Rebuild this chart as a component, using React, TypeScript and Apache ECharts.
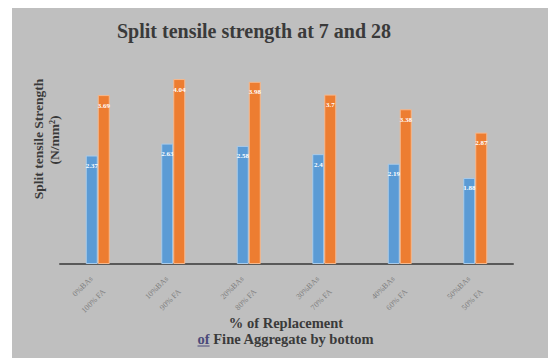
import React, { useEffect, useRef } from "react";
import * as echarts from "echarts";

const categories = [
  "0%BAs\n100% FA",
  "10%BAs\n90% FA",
  "20%BAs\n80% FA",
  "30%BAs\n70% FA",
  "40%BAs\n60% FA",
  "50%BAs\n50% FA",
];
const days7 = [2.37, 2.63, 2.58, 2.4, 2.19, 1.88];
const days28 = [3.69, 4.04, 3.98, 3.7, 3.38, 2.87];
const titleText = "Split tensile strength at 7 and 28";
const yNameLines = ["Split tensile Strength", "(N/mm\u00B2)"];
const xNameLine1 = "% of Replacement";
const xNameLine2a = "of";
const xNameLine2b = " Fine Aggregate by bottom";

export default function App() {
  const ref = useRef<HTMLDivElement>(null);
  useEffect(() => {
    if (!ref.current) return;
    const chart = echarts.init(ref.current, null, { renderer: "svg" });
    const serif = "Liberation Serif";
    const labelCfg = {
      show: true,
      position: "insideTop",
      distance: 7,
      color: "#ffffff",
      fontSize: 7,
      fontWeight: "bold",
      fontFamily: serif,
    };
    const xFont = `bold 14.5px ${serif}`;
    const fmt: any = echarts.format;
    const ofW = fmt.getTextRect ? fmt.getTextRect(xNameLine2a, xFont).width : 12;
    const fullW = fmt.getTextRect
      ? fmt.getTextRect(xNameLine2a + xNameLine2b, xFont).width
      : 174;
    const x2Start = 286 - fullW / 2;
    chart.setOption({
      animation: false,
      backgroundColor: "#ffffff",
      graphic: [
        {
          type: "rect",
          z: -10,
          shape: { x: 12, y: 8, width: 536, height: 350 },
          style: { fill: "#bfbfbf" },
        },
        {
          type: "text",
          x: 254,
          y: 31,
          style: {
            text: titleText,
            fill: "#3a3a3a",
            font: `bold 20px ${serif}`,
            textAlign: "center",
            textVerticalAlign: "middle",
          },
        },
        {
          type: "text",
          x: 38,
          y: 139,
          rotation: Math.PI / 2,
          style: {
            text: yNameLines[0],
            fill: "#3a3a3a",
            font: `bold 13.5px ${serif}`,
            textAlign: "center",
            textVerticalAlign: "middle",
          },
        },
        {
          type: "text",
          x: 54,
          y: 140,
          rotation: Math.PI / 2,
          style: {
            text: yNameLines[1],
            fill: "#3a3a3a",
            font: `bold 13.5px ${serif}`,
            textAlign: "center",
            textVerticalAlign: "middle",
          },
        },
        {
          type: "text",
          x: 286,
          y: 323,
          style: {
            text: xNameLine1,
            fill: "#3a3a3a",
            font: xFont,
            textAlign: "center",
            textVerticalAlign: "middle",
          },
        },
        {
          type: "text",
          x: x2Start,
          y: 339,
          style: {
            text: xNameLine2a,
            fill: "#4a4a7a",
            font: xFont,
            textAlign: "left",
            textVerticalAlign: "middle",
          },
        },
        {
          type: "text",
          x: x2Start + ofW,
          y: 339,
          style: {
            text: xNameLine2b,
            fill: "#3a3a3a",
            font: xFont,
            textAlign: "left",
            textVerticalAlign: "middle",
          },
        },
        {
          type: "line",
          shape: { x1: x2Start, y1: 346, x2: x2Start + ofW, y2: 346 },
          style: { stroke: "#4a4a7a", lineWidth: 1 },
        },
      ],
      grid: { left: 60, right: 35, top: 58, bottom: 94 },
      xAxis: {
        type: "category",
        data: categories,
        axisLine: { show: true, lineStyle: { color: "#595959", width: 2 } },
        axisTick: { show: false },
        axisLabel: {
          rotate: 45,
          fontSize: 8,
          color: "#808080",
          fontFamily: serif,
          lineHeight: 18,
          margin: 20,
          interval: 0,
        },
      },
      yAxis: {
        type: "value",
        min: 0,
        max: 4.5,
        axisLine: { show: false },
        axisTick: { show: false },
        axisLabel: { show: false },
        splitLine: { show: false },
      },
      series: [
        {
          name: "7 days",
          type: "bar",
          data: days7,
          barWidth: 12,
          barGap: "0%",
          itemStyle: { color: "#5b9bd5", borderColor: "#a9cbea", borderWidth: 1 },
          label: labelCfg,
        },
        {
          name: "28 days",
          type: "bar",
          data: days28,
          barWidth: 12,
          itemStyle: { color: "#ed7d31", borderColor: "#f6b98e", borderWidth: 1 },
          label: labelCfg,
        },
      ],
    });
    return () => chart.dispose();
  }, []);
  return (
    <div
      ref={ref}
      style={{ position: "absolute", left: 0, top: 0, width: 548, height: 358 }}
    />
  );
}
